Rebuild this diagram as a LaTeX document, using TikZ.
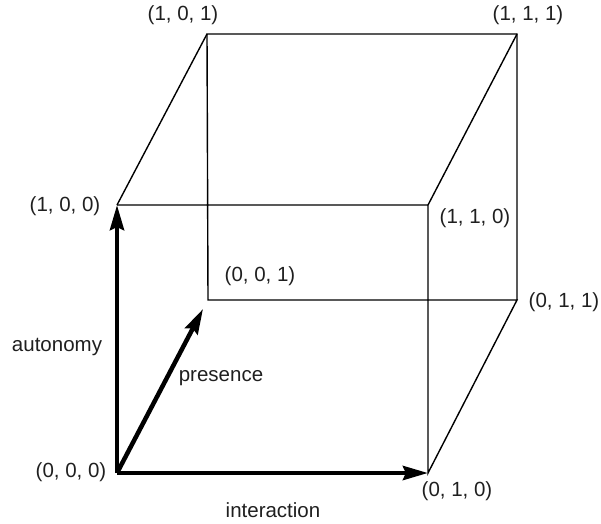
\documentclass[tikz,border=0pt]{standalone}
\usepackage{fontspec}
\setmainfont{Liberation Sans}
\usetikzlibrary{arrows.meta}
\begin{document}
\begin{tikzpicture}[x=1pt,y=-1pt,
  edge/.style={draw=black,line width=1.4pt},
  axis/.style={draw=black,line width=4.5pt,-{Stealth[length=25pt,width=14pt,inset=3pt]}},
  lbl/.style={font=\fontsize{20.5}{24}\selectfont,text=black!88,inner sep=0pt,anchor=center}]
\useasboundingbox (0,0) rectangle (601,523);
% vertices
\coordinate (v000) at (117,473);
\coordinate (v010) at (428,473);
\coordinate (v100) at (117,205);
\coordinate (v110) at (428,205);
\coordinate (v001) at (208,300);
\coordinate (v011) at (517,300);
\coordinate (v101) at (207,34);
\coordinate (v111) at (517,34);
\coordinate (ptip) at (203,309);
% cube edges
\draw[edge] (v100) -- (v110) -- (v010) -- (v011) -- (v001) -- (v101) -- (v111) -- (v011);
\draw[edge] (v100) -- (v101);
\draw[edge] (v110) -- (v111);
% axes
\draw[axis] (v000) -- (v100);
\draw[axis] (v000) -- (v010);
\draw[axis] (v000) -- (ptip);
% labels
\node[lbl] (l100) at (65,206) {(1, 0, 0)};
\node[lbl] (l000) at (71,472) {(0, 0, 0)};
\node[lbl] (l010) at (457,491) {(0, 1, 0)};
\node[lbl] (l110) at (475,218) {(1, 1, 0)};
\node[lbl] (l011) at (564,302) {(0, 1, 1)};
\node[lbl] (l101) at (183,15) {(1, 0, 1)};
\node[lbl] (l111) at (528,15) {(1, 1, 1)};
\node[lbl] (l001) at (260,276) {(0, 0, 1)};
\node[lbl] (lauto) at (57,347) {autonomy};
\node[lbl] (lpres) at (221,378) {presence};
\node[lbl] (linter) at (273,510) {interaction};
\end{tikzpicture}
\end{document}
